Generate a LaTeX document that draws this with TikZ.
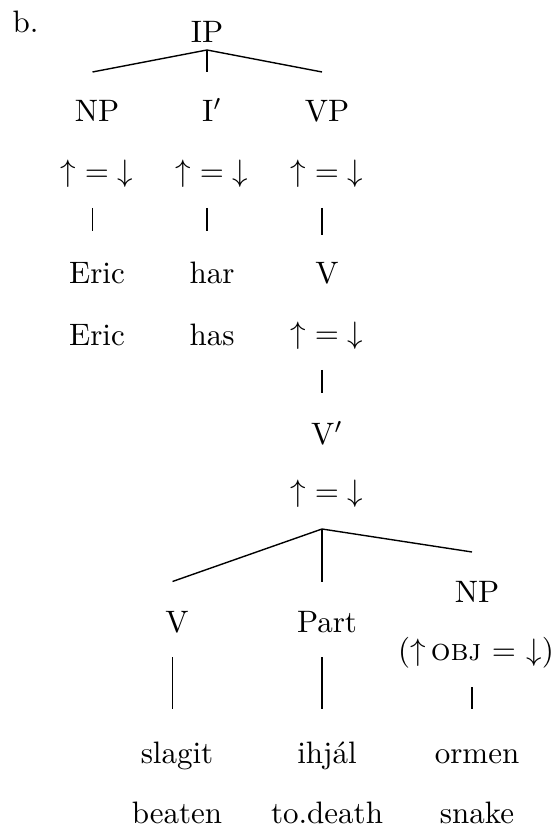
\documentclass[tikz,border=0pt]{standalone}
\usepackage{fontspec}
\usepackage{amsmath}
\usepackage{amssymb}
\usetikzlibrary{positioning}
\newcommand{\upeqdown}{$\uparrow{=}\downarrow$}
\tikzset{
  cat/.style    = {anchor=base, inner sep=0pt, font=\normalsize},
  feq/.style    = {anchor=base, inner sep=0pt},
  word/.style   = {anchor=base, inner sep=0pt},
  branch/.style = {line width=0.45pt},
}

\begin{document}
\begin{tikzpicture}[x=0.3226pt, y=-0.3226pt]
\useasboundingbox (0,0) rectangle (551,827);

\node[word, anchor=base west] (exlab) at (12,33) {b.};

% upper tree
\node[cat] (ip)  at (207,43)  {IP};
\node[cat] (np1) at (97,122)  {NP};
\node[cat] (ibar) at (212,122) {I$'$};
\node[cat] (vp)  at (327,122) {VP};

\node[feq] (fnp1)  at (97,182)  {\upeqdown};
\node[feq] (fibar) at (212,182) {\upeqdown};
\node[feq] (fvp)   at (327,182) {\upeqdown};

\node[word] (eric) at (97,284)  {Eric};
\node[word] (har)  at (212,284) {har};
\node[cat]  (v1)   at (327,284) {V};

\node[word] (ericg) at (97,346)  {Eric};
\node[word] (hasg)  at (212,346) {has};
\node[feq]  (fv1)   at (327,344) {\upeqdown};

\node[cat] (vbar)  at (327,445) {V$'$};
\node[feq] (fvbar) at (327,502) {\upeqdown};

% lower tree
\node[cat] (np2)  at (477,602) {NP};
\node[cat] (v2)   at (177,632) {V};
\node[cat] (part) at (327,632) {Part};
\node[feq] (fnp2) at (476,660) {($\uparrow$\,\textsc{obj} $=$ $\downarrow$)};

\node[word] (slagit) at (177,763) {slagit};
\node[word] (ihjal)  at (327,763) {ihj\'al};
\node[word] (ormen)  at (477,763) {ormen};

\node[word] (beaten)  at (177,823) {beaten};
\node[word] (todeath) at (327,823) {to.death};
\node[word] (snake)   at (477,823) {snake};

% branch points
\coordinate (ipB)   at (207,50);
\coordinate (np1T)  at (92.5,72);
\coordinate (ibarT) at (207,72);
\coordinate (vpT)   at (322,72);
\coordinate (np1a)  at (92.5,208);
\coordinate (np1b)  at (92.5,231);
\coordinate (ibara) at (207,208);
\coordinate (ibarb) at (207,231);
\coordinate (vpa)   at (322,208);
\coordinate (vpb)   at (322,235);
\coordinate (v1a)   at (322,370);
\coordinate (v1b)   at (322,393);
\coordinate (vbarB) at (322,529);
\coordinate (v2T)   at (172.5,581.5);
\coordinate (partT) at (322,581.5);
\coordinate (np2T)  at (472,552);
\coordinate (v2a)   at (172.5,657);
\coordinate (v2b)   at (172.5,709);
\coordinate (parta) at (322,657);
\coordinate (partb) at (322,709);
\coordinate (np2a)  at (472,687);
\coordinate (np2b)  at (472,709);

\draw[branch] (ipB) -- (np1T);
\draw[branch] (ipB) -- (ibarT);
\draw[branch] (ipB) -- (vpT);
\draw[branch] (np1a) -- (np1b);
\draw[branch] (ibara) -- (ibarb);
\draw[branch] (vpa) -- (vpb);
\draw[branch] (v1a) -- (v1b);
\draw[branch] (vbarB) -- (v2T);
\draw[branch] (vbarB) -- (partT);
\draw[branch] (vbarB) -- (np2T);
\draw[branch] (v2a) -- (v2b);
\draw[branch] (parta) -- (partb);
\draw[branch] (np2a) -- (np2b);
\end{tikzpicture}
\end{document}
